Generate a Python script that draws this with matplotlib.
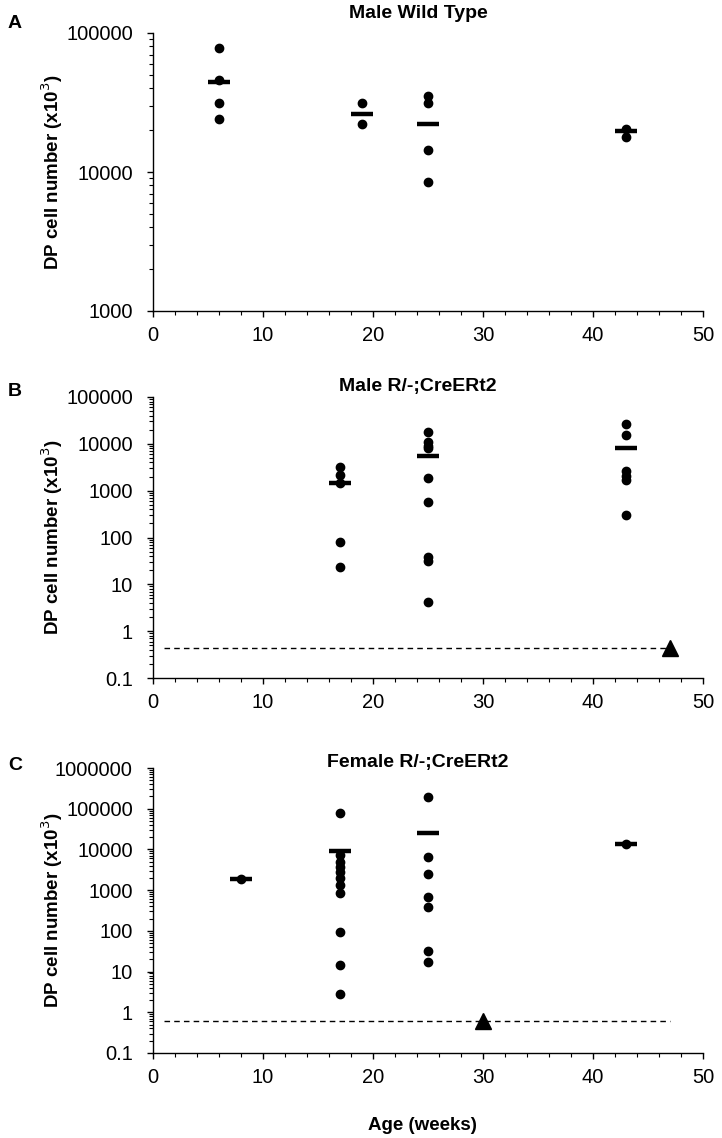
import matplotlib
matplotlib.use("Agg")
import matplotlib.pyplot as plt
from matplotlib.ticker import LogLocator, FuncFormatter, MultipleLocator, NullFormatter

plt.rcParams['font.family'] = ['Liberation Sans', 'DejaVu Sans']

# ---- data ----
a_weeks = [6, 19, 25, 43]
a_values = [[77500, 45800, 31400, 24000], [31400, 22100], [35500, 31400, 14500, 8430], [20500, 17900]]
a_means = [44500, 26300, 22200, 19800]

b_weeks = [17, 25, 43]
b_values = [[3240, 2150, 1430, 81, 23.7],
            [17600, 11100, 9100, 8000, 1890, 580, 38.7, 31.3, 4.1],
            [26100, 15400, 2660, 2050, 1680, 301]]
b_means = [1430, 5400, 8000]
b_limit_x = [1, 47]
b_limit = 0.44
b_tri_week = 47

c_weeks = [8, 17, 25, 43]
c_values = [[1840],
            [77100, 7280, 4990, 3760, 2830, 1950, 1333, 863, 95, 14.4, 2.8],
            [190000, 6500, 2440, 665, 391, 31.9, 16.8],
            [13500]]
c_means = [1840, 9290, 25700, 13500]
c_limit_x = [1, 47]
c_limit = 0.62
c_tri_week = 30

titles = ["Male Wild Type", "Male R/-;CreERt2", "Female R/-;CreERt2"]
letters = ["A", "B", "C"]
ylims = [(1000, 100000), (0.1, 100000), (0.1, 1000000)]
ylabel = "DP cell number (x10$^3$)"
xlabel = "Age (weeks)"

W, H = 722, 1138
fig = plt.figure(figsize=(W / 100, H / 100), dpi=100)

# pixel boxes (left, top, right, bottom)
boxes = [(153, 33, 703, 311), (153, 397, 703, 678), (153, 768, 703, 1053)]
title_y = [13, 387, 763]
letter_y = [24, 392, 766]

panels = [
    (a_weeks, a_values, a_means, None),
    (b_weeks, b_values, b_means, (b_limit_x, b_limit, b_tri_week)),
    (c_weeks, c_values, c_means, (c_limit_x, c_limit, c_tri_week)),
]

def fmt(v, pos):
    if v < 1:
        return "%g" % v
    return "%d" % round(v)

for i, (box, (weeks, vals, means, lim)) in enumerate(zip(boxes, panels)):
    l, t, r, b = box
    ax = fig.add_axes([l / W, 1 - b / H, (r - l) / W, (b - t) / H])
    for w, vs in zip(weeks, vals):
        ax.plot([w] * len(vs), vs, 'o', color='black', markersize=6, zorder=3)
    ax.plot(weeks, means, '_', color='black', markersize=16, markeredgewidth=3.2, zorder=4)
    if lim is not None:
        lx, lv, tw = lim
        ax.plot(lx, [lv, lv], linestyle=(0, (4, 3)), color='black', linewidth=1.0, zorder=2)
        ax.plot([tw], [lv], '^', color='black', markersize=12, zorder=5)
    ax.set_yscale('log')
    ax.set_ylim(*ylims[i])
    ax.set_xlim(0, 50)
    ax.xaxis.set_major_locator(MultipleLocator(10))
    ax.xaxis.set_minor_locator(MultipleLocator(2))
    ax.yaxis.set_major_locator(LogLocator(base=10, numticks=20))
    ax.yaxis.set_minor_locator(LogLocator(base=10, subs=range(2, 10), numticks=20))
    ax.yaxis.set_major_formatter(FuncFormatter(fmt))
    ax.yaxis.set_minor_formatter(NullFormatter())
    for s in ['top', 'right']:
        ax.spines[s].set_visible(False)
    for s in ['left', 'bottom']:
        ax.spines[s].set_linewidth(1.0)
        ax.spines[s].set_color('black')
    ax.tick_params(which='major', direction='out', length=4.5, width=1, labelsize=14.5, colors='black')
    ax.tick_params(axis='y', which='major', pad=10)
    ax.tick_params(axis='x', which='major', pad=6.5)
    ax.tick_params(which='minor', direction='out', length=3, width=0.8)
    yc = (t + b) / 2
    fig.text(52 / W, 1 - yc / H, ylabel, rotation=90, fontsize=13.5, fontweight='bold',
             ha='center', va='center')
    fig.text(418 / W, 1 - title_y[i] / H, titles[i], fontsize=14, fontweight='bold',
             ha='center', va='center')
    fig.text(8 / W, 1 - letter_y[i] / H, letters[i], fontsize=14, fontweight='bold',
             va='center', ha='left')

fig.text(422 / W, 1 - 1126 / H, xlabel, fontsize=13.5, fontweight='bold', ha='center', va='center')

fig.savefig("out.png", dpi=100, facecolor='white')
